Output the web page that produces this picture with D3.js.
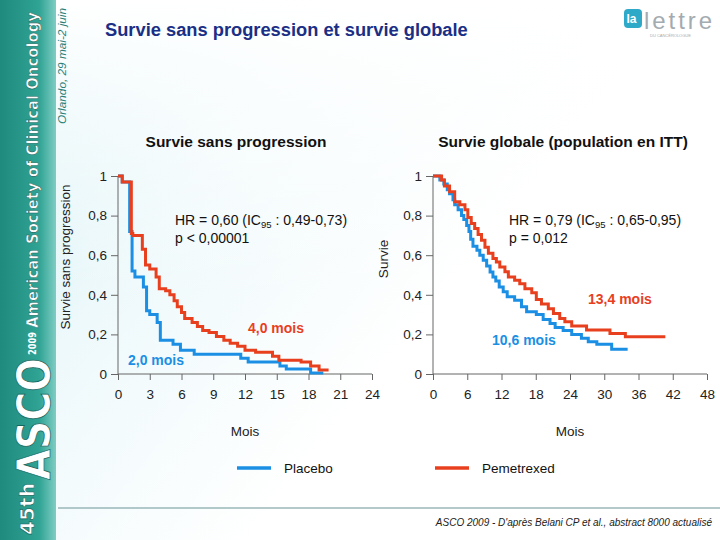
<!DOCTYPE html>
<html><head><meta charset="utf-8">
<script src="https://cdn.jsdelivr.net/npm/d3@7"></script>
<style>body{margin:0;background:#fff}svg{display:block;font-family:Arial,"Liberation Sans",sans-serif}</style>
</head><body><svg id="c" width="720" height="540"></svg>
<script>
// ---- data ----
const pfsTicks = [0,3,6,9,12,15,18,21,24];
const osTicks = [0,6,12,18,24,30,36,42,48];
const yTicks = [0,0.2,0.4,0.6,0.8,1];
const yTickLabels = ["0","0,2","0,4","0,6","0,8","1"];
// [month, survival]
const pfsPlacebo = [[0,1],[0.4,0.97],[1.1,0.72],[1.33,0.52],[1.6,0.49],[2.4,0.44],[2.7,0.32],[3.0,0.30],[3.7,0.26],[4.0,0.17],[5.2,0.15],[5.9,0.12],[7.2,0.10],[11.6,0.08],[12.3,0.06],[15.3,0.04],[15.9,0.025],[18.2,0.005],[19.4,0.005]];
const pfsPemetrexed = [[0,1],[0.4,0.97],[1.26,0.71],[1.4,0.70],[2.3,0.63],[2.6,0.55],[3.0,0.53],[3.6,0.49],[3.9,0.43],[4.5,0.42],[4.9,0.40],[5.3,0.37],[5.6,0.34],[6.0,0.31],[6.3,0.28],[7.0,0.26],[7.5,0.24],[8.0,0.22],[8.6,0.21],[9.3,0.19],[10.0,0.17],[10.6,0.155],[11.3,0.14],[12.0,0.12],[13.0,0.11],[14.6,0.09],[15.2,0.07],[17.3,0.06],[18.2,0.04],[19.0,0.02],[19.9,0.02]];
const osPlacebo = [[0,1],[1.2,0.98],[1.9,0.96],[2.5,0.93],[2.9,0.91],[3.5,0.88],[3.8,0.855],[4.4,0.83],[5.0,0.80],[5.4,0.78],[5.9,0.75],[6.3,0.72],[6.6,0.68],[7.0,0.645],[7.7,0.625],[8.2,0.60],[8.8,0.575],[9.4,0.545],[10.0,0.515],[10.5,0.49],[11.0,0.47],[11.6,0.44],[12.3,0.415],[13.0,0.39],[14.3,0.373],[15.5,0.34],[16.4,0.315],[18.1,0.30],[19.3,0.275],[20.5,0.255],[21.4,0.235],[22.8,0.22],[24.3,0.20],[26.0,0.18],[27.2,0.163],[28.7,0.15],[31.3,0.125],[34.1,0.125]];
const osPemetrexed = [[0,1],[1.5,0.98],[2.0,0.95],[2.9,0.92],[3.8,0.87],[4.7,0.855],[5.6,0.83],[6.1,0.79],[6.7,0.76],[7.3,0.735],[7.9,0.705],[8.5,0.675],[9.1,0.64],[9.7,0.61],[10.5,0.583],[11.1,0.566],[11.7,0.54],[12.6,0.516],[13.2,0.49],[14.3,0.474],[15.2,0.456],[16.1,0.43],[17.3,0.41],[18.1,0.376],[19.0,0.353],[20.2,0.33],[21.1,0.306],[22.2,0.28],[23.1,0.264],[24.3,0.242],[26.9,0.222],[31.0,0.205],[33.7,0.188],[40.7,0.188]];
const seriesNames = ["Placebo","Pemetrexed"];
const colors = ["#1b8fe3","#e8401e"];

const svg = d3.select("#c");
const defs = svg.append("defs");
const bg = defs.append("linearGradient").attr("id","bg").attr("x1","0").attr("y1","0").attr("x2","1").attr("y2","0.6");
bg.append("stop").attr("offset","0").attr("stop-color","#c9ecf1");
bg.append("stop").attr("offset","0.35").attr("stop-color","#eef9fb");
bg.append("stop").attr("offset","0.7").attr("stop-color","#ffffff");
svg.append("rect").attr("width",720).attr("height",540).attr("fill","url(#bg)");
const topfade = defs.append("linearGradient").attr("id","tf").attr("x1","0").attr("y1","0").attr("x2","0").attr("y2","1");
topfade.append("stop").attr("offset","0").attr("stop-color","#fff").attr("stop-opacity",1);
topfade.append("stop").attr("offset","0.45").attr("stop-color","#fff").attr("stop-opacity",0.6);
topfade.append("stop").attr("offset","1").attr("stop-color","#fff").attr("stop-opacity",0);
svg.append("rect").attr("width",720).attr("height",300).attr("fill","url(#tf)");

// left banner
const band = defs.append("linearGradient").attr("id","band").attr("x1","0").attr("y1","0").attr("x2","1").attr("y2","0");
band.append("stop").attr("offset","0").attr("stop-color","#1f8a7e");
band.append("stop").attr("offset","0.7").attr("stop-color","#2fa394");
band.append("stop").attr("offset","1").attr("stop-color","#7fcdc3");
svg.append("rect").attr("x",0).attr("y",0).attr("width",56).attr("height",540).attr("fill","url(#band)");
const bt = svg.append("g").attr("transform","translate(36,270) rotate(-90)");
const bf = "'DejaVu Sans Condensed','Liberation Sans Narrow',Arial";
bt.append("text").attr("x",-265).attr("y",-2).attr("font-size",20).attr("font-weight","bold").attr("fill","#fff")
  .attr("stroke","#17665d").attr("stroke-width",0.6).attr("font-family",bf).attr("textLength",52).attr("lengthAdjust","spacingAndGlyphs").text("45th");
bt.append("text").attr("x",-210).attr("y",14).attr("font-size",46).attr("font-weight","bold").attr("fill","#fff")
  .attr("stroke","#17665d").attr("stroke-width",0.8).attr("font-family",bf).attr("textLength",122).attr("lengthAdjust","spacingAndGlyphs").text("ASCO");
bt.append("text").attr("x",-85).attr("y",0).attr("font-size",11).attr("font-weight","bold").attr("fill","#fff")
  .attr("font-family",bf).attr("textLength",23).attr("lengthAdjust","spacingAndGlyphs").text("2009");
bt.append("text").attr("x",-58).attr("y",2).attr("font-size",15.5).attr("font-weight","bold").attr("fill","#fff")
  .attr("stroke","#17665d").attr("stroke-width",0.5).attr("font-family",bf).attr("textLength",316).attr("lengthAdjust","spacingAndGlyphs").text("American Society of Clinical Oncology");
svg.append("text").attr("transform","translate(66,124) rotate(-90)").attr("font-size",11).attr("font-style","italic")
  .attr("fill","#2a7f78").attr("textLength",116).attr("lengthAdjust","spacingAndGlyphs").text("Orlando, 29 mai-2 juin");

// main title
svg.append("text").attr("x",105).attr("y",36).attr("font-size",18.3).attr("font-weight","bold").attr("fill","#1a2f85")
  .text("Survie sans progression et survie globale");

// logo
const lg = svg.append("g").attr("transform","translate(624,9)");
lg.append("rect").attr("x",0).attr("y",0).attr("width",18).attr("height",19).attr("rx",4).attr("fill","#2fa9c8");
lg.append("text").attr("x",2.5).attr("y",14).attr("font-size",12).attr("font-weight","bold").attr("fill","#fff").text("la");
lg.append("text").attr("x",20).attr("y",20).attr("font-size",24).attr("fill","#a3abb0").attr("textLength",68).text("lettre");
lg.append("text").attr("x",26).attr("y",28).attr("font-size",4).attr("fill","#a3abb0").text("DU CANCÉROLOGUE");

// panels
function panel(x0, x1, xmax, ticks, title, titleX, ylabel, ylabelX, ylabelY, sA, sB) {
  const x = d3.scaleLinear().domain([0,xmax]).range([x0,x1]);
  const y = d3.scaleLinear().domain([0,1]).range([374,176]);
  const g = svg.append("g");
  const yAx = g.append("g").attr("transform",`translate(${x0},0)`)
    .call(d3.axisLeft(y).tickValues(yTicks).tickFormat((d,i)=>yTickLabels[i]).tickSize(7).tickPadding(4));
  const xAx = g.append("g").attr("transform","translate(0,374)")
    .call(d3.axisBottom(x).tickValues(ticks).tickSize(6).tickPadding(9));
  [yAx,xAx].forEach(a=>{
    a.selectAll("path,line").attr("stroke","#666").attr("stroke-width",1);
    a.selectAll("text").attr("font-size",13.5).attr("fill","#222").attr("font-family","Arial,'Liberation Sans',sans-serif");
  });
  xAx.select(".domain").attr("d",`M${x0},0H${x1}`);
  yAx.select(".domain").attr("d",`M0,${y(0)}V${y(1)}`);
  const line = d3.line().x(d=>x(d[0])).y(d=>y(d[1])).curve(d3.curveStepAfter);
  [sA,sB].forEach((s,i)=>{
    g.append("path").datum(s).attr("d",line).attr("fill","none").attr("stroke",colors[i]).attr("stroke-width",3);
  });
  g.append("text").attr("x",titleX).attr("y",147).attr("text-anchor","middle").attr("font-size",15.5).attr("font-weight","bold").attr("fill","#111").text(title);
  g.append("text").attr("x",(x0+x1)/2).attr("y",436).attr("text-anchor","middle").attr("font-size",13.5).attr("fill","#222").text("Mois");
  g.append("text").attr("transform",`translate(${ylabelX},${ylabelY}) rotate(-90)`).attr("text-anchor","middle").attr("font-size",13.5).attr("fill","#222").text(ylabel);
  return {x,y,g};
}
const p1 = panel(118, 372, 24, pfsTicks, "Survie sans progression", 236, "Survie sans progression", 70, 257, pfsPlacebo, pfsPemetrexed);
const p2 = panel(433, 707, 48, osTicks, "Survie globale (population en ITT)", 563, "Survie", 388, 259, osPlacebo, osPemetrexed);

function hr(g, x, y, hrTxt, ci, p) {
  const t = g.append("text").attr("x",x).attr("y",y).attr("font-size",14).attr("fill","#111");
  t.append("tspan").text(hrTxt + " (IC");
  t.append("tspan").attr("font-size",9.5).attr("dy",3).text("95");
  t.append("tspan").attr("dy",-3).text(" : " + ci + ")");
  g.append("text").attr("x",x).attr("y",y+18).attr("font-size",14).attr("fill","#111").text(p);
}
hr(p1.g, 175, 225, "HR = 0,60", "0,49-0,73", "p < 0,00001");
hr(p2.g, 509, 225, "HR = 0,79", "0,65-0,95", "p = 0,012");
function med(g, x, y, txt, c) {
  g.append("text").attr("x",x).attr("y",y).attr("font-size",14).attr("font-weight","bold").attr("fill",c).text(txt);
}
med(p1.g, 248, 333, "4,0 mois", colors[1]);
med(p1.g, 128, 365, "2,0 mois", colors[0]);
med(p2.g, 588, 304, "13,4 mois", colors[1]);
med(p2.g, 492, 345, "10,6 mois", colors[0]);

// legend
const legX = [237, 435];
seriesNames.forEach((n,i)=>{
  svg.append("line").attr("x1",legX[i]).attr("x2",legX[i]+34).attr("y1",468).attr("y2",468).attr("stroke",colors[i]).attr("stroke-width",3.5);
  svg.append("text").attr("x",legX[i]+47).attr("y",473).attr("font-size",13.5).attr("fill","#111").text(n);
});

// footer
svg.append("line").attr("x1",58).attr("x2",720).attr("y1",508).attr("y2",508).attr("stroke","#9ab7b8").attr("stroke-width",1.5);
svg.append("text").attr("x",712).attr("y",526).attr("text-anchor","end").attr("font-size",10).attr("font-style","italic").attr("fill","#222")
  .text("ASCO 2009 - D'après Belani CP et al., abstract 8000 actualisé");
</script></body></html>
